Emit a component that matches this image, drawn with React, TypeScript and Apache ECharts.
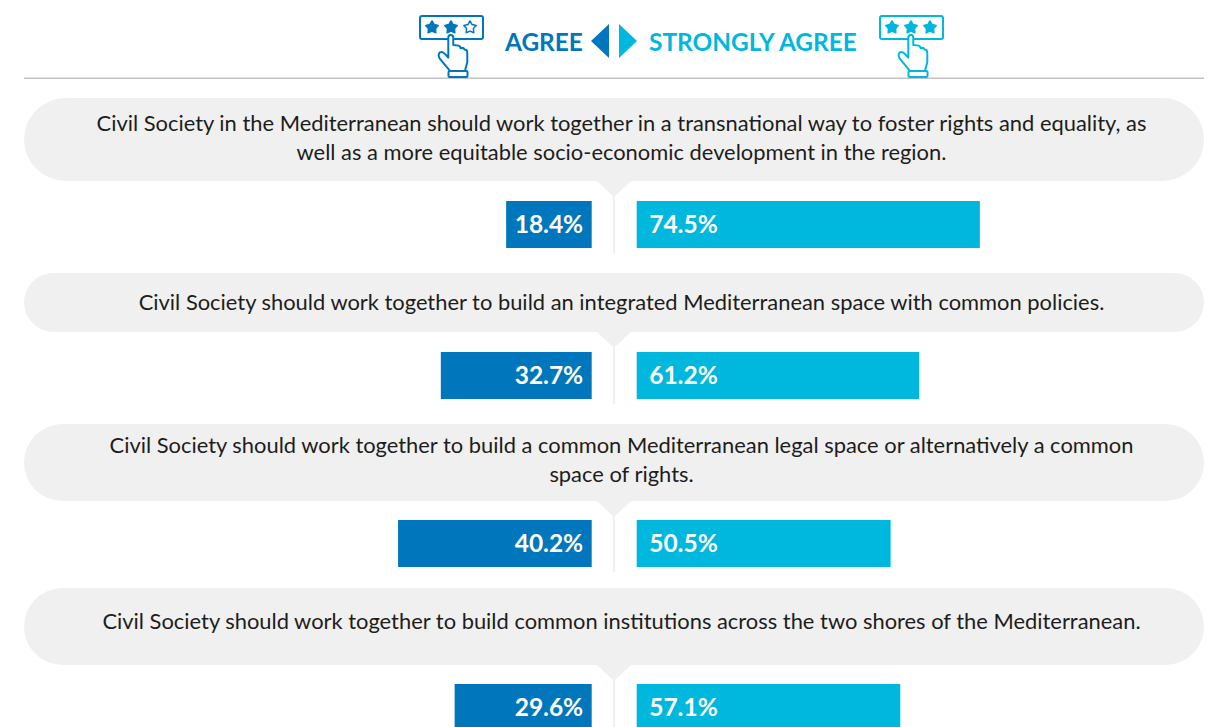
import React, { useEffect, useRef } from "react";
import * as echarts from "echarts";

const statements: string[][] = [
  ["Civil Society in the Mediterranean should work together in a transnational way to foster rights and equality, as", "well as a more equitable socio-economic development in the region."],
  ["Civil Society should work together to build an integrated Mediterranean space with common policies."],
  ["Civil Society should work together to build a common Mediterranean legal space or alternatively a common", "space of rights."],
  ["Civil Society should work together to build common institutions across the two shores of the Mediterranean."],
];
const agreeLabels = ["18.4%", "32.7%", "40.2%", "29.6%"];
const stronglyLabels = ["74.5%", "61.2%", "50.5%", "57.1%"];
// Drawn lengths (row 3 is drawn longer than its printed label)
const agreeBars = [18.6, 32.8, 42.1, 29.8];
const stronglyBars = [74.6, 61.4, 55.2, 57.3];
const legendAgree = "AGREE";
const legendStrongly = "STRONGLY AGREE";

const BLUE = "#0077bd";
const CYAN = "#00b7de";
const PILL = "#f0f0f0";
const FONT = "Lato";

const pills = [
  { top: 98, bottom: 181, lines: [122, 151] },
  { top: 273, bottom: 332, lines: [301] },
  { top: 424, bottom: 501, lines: [444, 473] },
  { top: 588, bottom: 665, lines: [620] },
];
const barTops = [201, 352, 520, 684];
const BAR_H = 47;
const PX_PER_UNIT = 4.6;

const handPath =
  "M115 158 L115 98 Q115 90 122.5 90 Q130 90 130 98 L130 120 L146 122 Q152 124 152 130 Q160 126 164 134 Q172 134 172 144 L172 172 L165 198 L120 198 L90 162 Q82 150 90 142 Q98 138 106 148 L115 158 Z";
echarts.graphic.registerShape("hand", echarts.graphic.extendPath(handPath, {}) as any);

function starPoints(cx: number, cy: number, r: number) {
  const pts: number[][] = [];
  for (let i = 0; i < 10; i++) {
    const rad = i % 2 === 0 ? r : r * 0.55;
    const a = -Math.PI / 2 + (i * Math.PI) / 5;
    pts.push([cx + rad * Math.cos(a), cy + rad * Math.sin(a)]);
  }
  return pts;
}

function icon(ox: number, color: string, filled: boolean[]) {
  const els: any[] = [];
  els.push({
    type: "rect",
    shape: { x: ox + 420, y: 16, width: 63, height: 23, r: 2 },
    style: { fill: "#fff", stroke: color, lineWidth: 2 },
  });
  [432, 451, 470].forEach((cx, i) => {
    els.push({
      type: "polygon",
      shape: { points: starPoints(ox + cx, 27.5, 6.5) },
      style: { fill: filled[i] ? color : "#fff", stroke: color, lineWidth: filled[i] ? 1.6 : 1.5, lineJoin: "round" },
    });
  });
  els.push({
    type: "hand",
    x: ox + 410,
    y: 5,
    scaleX: 1 / 3,
    scaleY: 1 / 3,
    style: { fill: "#fff", stroke: color, lineWidth: 6, lineJoin: "round" },
  });
  els.push({
    type: "rect",
    shape: { x: ox + 448.5, y: 71, width: 19, height: 6, r: 1 },
    style: { fill: "#fff", stroke: color, lineWidth: 2 },
  });
  return els;
}

function text(t: string, x: number, y: number, fill: string, fontSize: number, fontWeight: any, align: string) {
  return {
    type: "text",
    style: {
      text: t,
      x,
      y,
      fill,
      fontSize,
      fontWeight,
      fontFamily: FONT,
      textAlign: align,
      align,
      textVerticalAlign: "middle",
      verticalAlign: "middle",
    },
  };
}

export default function App() {
  const ref = useRef<HTMLDivElement>(null);
  useEffect(() => {
    document.body.style.margin = "0";
    const chart = echarts.init(ref.current!, undefined, { renderer: "svg" });
    const graphic: any[] = [];
    graphic.push({
      type: "rect",
      shape: { x: 24, y: 77.5, width: 1180, height: 1.5 },
      style: { fill: "#c4c4c4" },
    });
    pills.forEach((p, i) => {
      const h = p.bottom - p.top;
      graphic.push({
        type: "rect",
        shape: { x: 24, y: p.top, width: 1180, height: h, r: h / 2 },
        style: { fill: PILL },
      });
      graphic.push({
        type: "polygon",
        shape: { points: [[596, p.bottom - 1], [632, p.bottom - 1], [614, p.bottom + 16]] },
        style: { fill: PILL },
      });
      graphic.push({
        type: "rect",
        shape: { x: 613, y: p.bottom + 10, width: 2, height: barTops[i] + BAR_H + 5 - p.bottom - 10 },
        style: { fill: PILL },
      });
      statements[i].forEach((line, j) => {
        graphic.push(text(line, 621.5, p.lines[j], "#1d1d1b", 21.9, 400, "center"));
      });
    });
    graphic.push(...icon(0, BLUE, [true, true, false]));
    graphic.push(...icon(460, CYAN, [true, true, true]));
    graphic.push(text(legendAgree, 505, 41, BLUE, 24.4, 700, "left"));
    graphic.push(text(legendStrongly, 649, 41, CYAN, 24.4, 700, "left"));
    graphic.push({ type: "polygon", shape: { points: [[609, 24], [609, 58], [591, 41]] }, style: { fill: BLUE } });
    graphic.push({ type: "polygon", shape: { points: [[619, 24], [619, 58], [637, 41]] }, style: { fill: CYAN } });

    const grid: any[] = [];
    const xAxis: any[] = [];
    const yAxis: any[] = [];
    const series: any[] = [];
    const addBar = (left: number, top: number, inverse: boolean, value: number, label: string, color: string) => {
      const idx = grid.length;
      grid.push({ left, top, width: 100 * PX_PER_UNIT, height: BAR_H, containLabel: false, outerBoundsMode: "none" });
      xAxis.push({ type: "value", gridIndex: idx, min: 0, max: 100, inverse, show: false });
      yAxis.push({ type: "category", gridIndex: idx, data: [label], show: false });
      series.push({
        type: "bar",
        xAxisIndex: idx,
        yAxisIndex: idx,
        barWidth: BAR_H,
        data: [value],
        itemStyle: { color },
        label: {
          show: true,
          formatter: label,
          position: inverse ? "insideRight" : "insideLeft",
          distance: inverse ? 8.5 : 12.5,
          offset: [0, -1],
          color: "#fff",
          fontFamily: FONT,
          fontWeight: 700,
          fontSize: 24.5,
        },
      });
    };
    barTops.forEach((top, i) => {
      addBar(591.7 - 100 * PX_PER_UNIT, top, true, agreeBars[i], agreeLabels[i], BLUE);
      addBar(636.7, top, false, stronglyBars[i], stronglyLabels[i], CYAN);
    });

    chart.setOption({
      animation: false,
      backgroundColor: "#fff",
      tooltip: { show: false },
      grid,
      xAxis,
      yAxis,
      series,
      graphic: { elements: graphic },
    });
    return () => chart.dispose();
  }, []);
  return <div ref={ref} style={{ width: 1208, height: 727 }} />;
}
